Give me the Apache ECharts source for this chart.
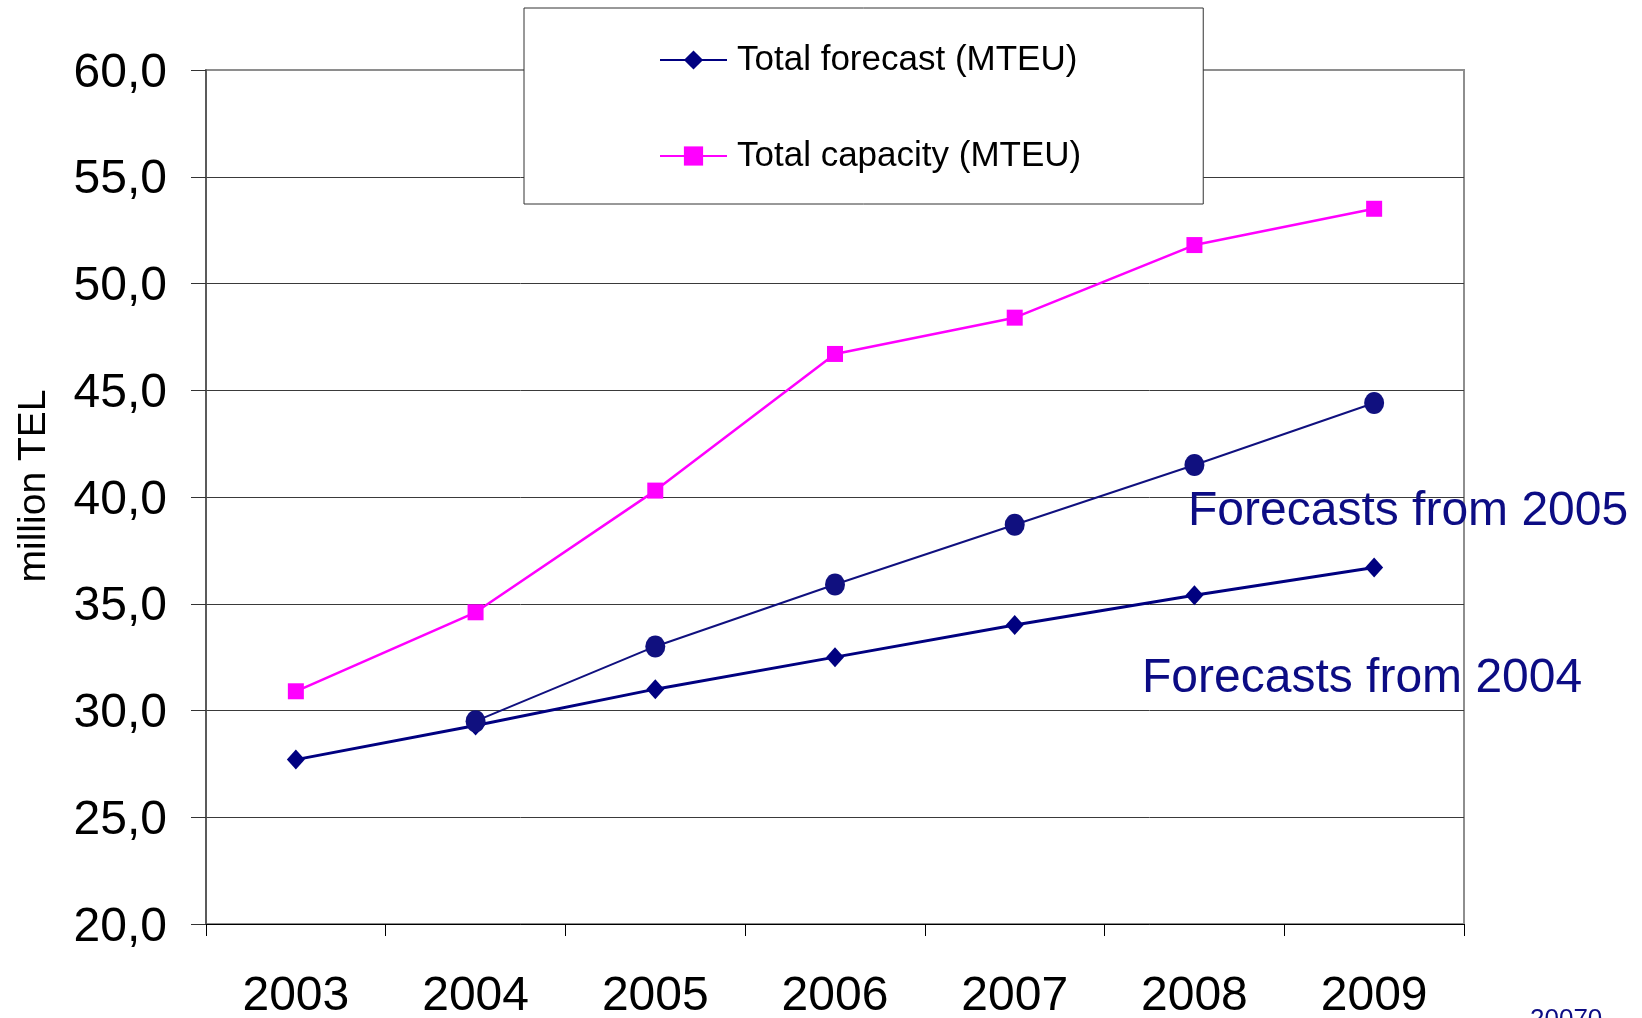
<!DOCTYPE html>
<html>
<head>
<meta charset="utf-8">
<title>Forecast and capacity</title>
<script src="https://cdn.jsdelivr.net/npm/echarts@6/dist/echarts.min.js"></script>
<style>
  html, body { margin: 0; padding: 0; background: #fff; }
  #chart { width: 1642px; height: 1018px; }
</style>
</head>
<body>
<div id="chart"></div>
<script>
// Years on the horizontal axis
const years = ['2003', '2004', '2005', '2006', '2007', '2008', '2009'];
// Total forecast (MTEU), forecasts made in 2004
const totalForecast = [27.7, 29.3, 31.0, 32.5, 34.0, 35.4, 36.7];
// Total capacity (MTEU)
const totalCapacity = [30.9, 34.6, 40.3, 46.7, 48.4, 51.8, 53.5];
// Forecasts made in 2005 (start from 2004)
const forecast2005 = [null, 29.5, 33.0, 35.9, 38.7, 41.5, 44.4];
// Value axis range
const yMin = 20, yMax = 60, yStep = 5;

const FONT = '"Liberation Sans", Arial, sans-serif';
const NAVY = '#000080';
const NOTE = '#0c0c84';

const chart = echarts.init(document.getElementById('chart'), null, { renderer: 'canvas' });

chart.setOption({
  animation: false,
  backgroundColor: '#ffffff',
  textStyle: { fontFamily: FONT },
  grid: {
    left: 206, right: 178, top: 70, bottom: 94,
    outerBoundsMode: 'none',
    containLabel: false,
    show: true,
    borderColor: '#8e8e8e',
    borderWidth: 2,
    backgroundColor: 'transparent'
  },
  legend: {
    data: ['Total forecast (MTEU)', 'Total capacity (MTEU)'],
    orient: 'vertical',
    left: 524,
    top: 8,
    padding: [34, 122, 30, 135],
    itemGap: 60,
    itemWidth: 67,
    itemHeight: 24,
    backgroundColor: '#ffffff',
    borderColor: '#333333',
    borderWidth: 1,
    lineStyle: { width: 2 },
    textStyle: {
      fontFamily: FONT,
      fontSize: 35,
      lineHeight: 36,
      color: '#000',
      padding: [0, 0, 0, 5]
    },
    selectedMode: false
  },
  xAxis: {
    type: 'category',
    data: years,
    boundaryGap: true,
    axisLine: { show: true, lineStyle: { color: '#000', width: 1 } },
    axisTick: { show: true, alignWithLabel: false, length: 12, lineStyle: { color: '#000', width: 1 } },
    axisLabel: { fontFamily: FONT, fontSize: 48, color: '#000', margin: 49 },
    splitLine: { show: false }
  },
  yAxis: {
    type: 'value',
    min: yMin,
    max: yMax,
    interval: yStep,
    name: 'million TEL',
    nameLocation: 'middle',
    nameGap: 152,
    nameTextStyle: { fontFamily: FONT, fontSize: 39, color: '#000', padding: [0, 0, 0, 22] },
    axisLine: { show: true, lineStyle: { color: '#4a4a4a', width: 1.5 } },
    axisTick: { show: true, length: 15, lineStyle: { color: '#333', width: 1 } },
    axisLabel: {
      margin: 39,
      formatter: v => '{v|' + v.toFixed(1).replace('.', ',') + '}',
      rich: {
        v: { fontFamily: FONT, fontSize: 48, color: '#000', padding: [7, 0, 0, 0] }
      }
    },
    splitLine: {
      show: true,
      showMaxLine: false,
      showMinLine: false,
      lineStyle: { color: '#3a3a3a', width: 1 }
    }
  },
  series: [
    {
      name: 'Total capacity (MTEU)',
      type: 'line',
      data: totalCapacity,
      symbol: 'rect',
      symbolSize: 16,
      lineStyle: { color: '#ff00ff', width: 2.5 },
      itemStyle: { color: '#ff00ff' },
      z: 3
    },
    {
      name: 'Total forecast (MTEU)',
      type: 'line',
      data: totalForecast,
      symbol: 'diamond',
      symbolSize: [18, 20],
      lineStyle: { color: NAVY, width: 3 },
      itemStyle: { color: NAVY },
      z: 4
    },
    {
      name: 'Forecasts from 2005',
      type: 'line',
      data: forecast2005,
      connectNulls: false,
      symbol: 'circle',
      symbolSize: [20, 22],
      lineStyle: { color: '#10107f', width: 2 },
      itemStyle: { color: '#10107f' },
      z: 5
    }
  ],
  graphic: [
    {
      type: 'text',
      left: 1188, top: 488,
      z: 10,
      style: { text: 'Forecasts from 2005', font: '48px ' + FONT, fill: NOTE }
    },
    {
      type: 'text',
      left: 1142, top: 655,
      z: 10,
      style: { text: 'Forecasts from 2004', font: '48px ' + FONT, fill: NOTE }
    },
    {
      type: 'text',
      left: 1530, top: 1007,
      z: 10,
      style: { text: '20070', font: '26px ' + FONT, fill: NOTE }
    }
  ]
});
</script>
</body>
</html>
